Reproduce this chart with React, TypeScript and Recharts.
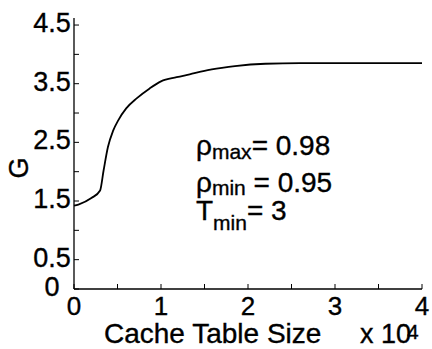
import React from 'react';
import { LineChart, Line, XAxis, YAxis, Customized } from 'recharts';

// cache table size (x 10^4) vs G
const tableSize = [0, 0.05, 0.2, 0.3, 0.34, 0.39, 0.45, 0.51, 0.6, 0.72, 0.87, 1.0, 1.18, 1.33, 1.5, 1.7, 1.85, 2.2, 2.6, 3.0, 3.5, 4.0];
const gain = [1.42, 1.44, 1.55, 1.68, 2.02, 2.42, 2.7, 2.88, 3.08, 3.25, 3.42, 3.54, 3.61, 3.66, 3.72, 3.77, 3.8, 3.84, 3.85, 3.85, 3.85, 3.85];

const xTicks = [0, 0.5, 1, 1.5, 2, 2.5, 3, 3.5, 4];
const xTickLabels = ['0', '', '1', '', '2', '', '3', '', '4'];
const yTicks = [0, 0.5, 1, 1.5, 2, 2.5, 3, 3.5, 4, 4.5];
const yTickLabels = ['0', '0.5', '', '1.5', '', '2.5', '', '3.5', '', '4.5'];

const data = tableSize.map((x, i) => ({ x, g: gain[i] }));

const FONT = 'Liberation Sans, Arial, Helvetica, sans-serif';
const TICK = 5;
// scanned print looks a bit heavier than a plain font
const ink = { fill: '#000', stroke: '#000', strokeWidth: 0.35 };

const BottomTick = (props: any) => {
  const { x, y, payload } = props;
  const label = xTickLabels[xTicks.indexOf(payload.value)];
  return (
    <g>
      <line x1={x} y1={y} x2={x} y2={y - TICK} stroke="#000" />
      <text x={x} y={y + 26} textAnchor="middle" fontSize={26} fontFamily={FONT} {...ink}>{label}</text>
    </g>
  );
};

const LeftTick = (props: any) => {
  const { x, y, payload } = props;
  const label = yTickLabels[yTicks.indexOf(payload.value)];
  return (
    <g>
      <line x1={x} y1={y} x2={x + TICK} y2={y} stroke="#000" />
      <text x={x - 22} y={y + 7} textAnchor="middle" fontSize={27} fontFamily={FONT} {...ink}>{label}</text>
    </g>
  );
};

const TopTick = (props: any) => {
  const { x, y } = props;
  return <line x1={x} y1={y} x2={x} y2={y + TICK} stroke="#000" />;
};

const RightTick = (props: any) => {
  const { x, y } = props;
  return <line x1={x} y1={y} x2={x - TICK} y2={y} stroke="#000" />;
};

const Labels = () => (
  <g fontFamily={FONT} {...ink}>
    <text x={28} y={168} fontSize={27} textAnchor="middle" transform="rotate(-90 28 168)">G</text>
    <text x={104} y={343} fontSize={28}>Cache Table Size</text>
    <text x={360} y={343} fontSize={27}>x 10</text>
    <text x={407} y={339} fontSize={21}>4</text>
    <text x={196} y={155} fontSize={28}>
      ρ<tspan fontSize={21} dy={4}>max</tspan><tspan dy={-4}>= 0.98</tspan>
    </text>
    <text x={196} y={192} fontSize={28}>
      ρ<tspan fontSize={21} dy={3}>min</tspan><tspan dy={-3}> = 0.95</tspan>
    </text>
    <text x={196} y={220} fontSize={28}>
      T<tspan fontSize={21} dy={10}>min</tspan><tspan dy={-10}>= 3</tspan>
    </text>
  </g>
);

export default function App() {
  return (
    <div style={{ position: 'absolute', left: 0, top: 0, width: 432, height: 349, background: '#fff' }}>
      <LineChart width={432} height={349} data={data} margin={{ top: 18, right: 10, left: 0, bottom: 0 }}>
        <XAxis
          dataKey="x"
          type="number"
          domain={[0, 4]}
          ticks={xTicks}
          interval={0}
          height={60}
          tickSize={0}
          tickMargin={0}
          tickLine={false}
          axisLine={{ stroke: '#000', strokeWidth: 1.3 }}
          tick={<BottomTick />}
        />
        <XAxis
          xAxisId="top"
          orientation="top"
          type="number"
          domain={[0, 4]}
          ticks={xTicks}
          interval={0}
          height={0}
          tickSize={0}
          tickMargin={0}
          tickLine={false}
          axisLine={{ stroke: '#000', strokeWidth: 1.3 }}
          tick={<TopTick />}
        />
        <YAxis
          type="number"
          domain={[0, 4.62]}
          ticks={yTicks}
          interval={0}
          width={74}
          tickSize={0}
          tickMargin={0}
          tickLine={false}
          axisLine={{ stroke: '#000', strokeWidth: 1.3 }}
          tick={<LeftTick />}
        />
        <YAxis
          yAxisId="right"
          orientation="right"
          type="number"
          domain={[0, 4.62]}
          ticks={yTicks}
          interval={0}
          width={0}
          tickSize={0}
          tickMargin={0}
          tickLine={false}
          axisLine={{ stroke: '#000', strokeWidth: 1.3 }}
          tick={<RightTick />}
        />
        <Line dataKey="g" type="monotone" stroke="#000" strokeWidth={1.8} dot={false} isAnimationActive={false} />
        <Customized component={Labels} />
      </LineChart>
    </div>
  );
}
